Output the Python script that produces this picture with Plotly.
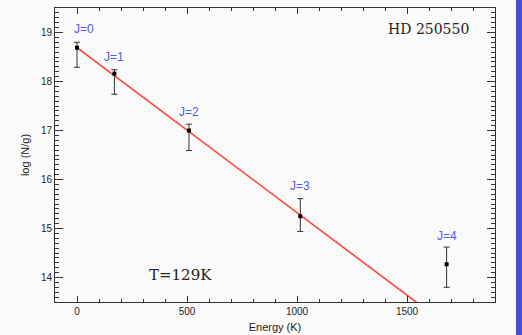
import plotly.graph_objects as go
import math

energy = [0, 170, 509, 1015, 1680]
logNg = [18.69, 18.16, 17.00, 15.25, 14.27]
err_up = [0.11, 0.08, 0.13, 0.36, 0.35]
err_down = [0.40, 0.42, 0.41, 0.31, 0.47]
labels = ["J=0", "J=1", "J=2", "J=3", "J=4"]
label_y = [19.08, 18.49, 17.37, 15.86, 14.85]
label_x = [30, 170, 509, 1015, 1680]
fit_x = [0, 1900]
T = 129.0
intercept = 18.69
fit_y = [intercept - math.log10(math.e) / T * x for x in fit_x]

fig = go.Figure()
fig.add_trace(go.Scatter(x=fit_x, y=fit_y, mode="lines",
                         line=dict(color="#ff3b30", width=1.5), hoverinfo="skip"))
fig.add_trace(go.Scatter(
    x=energy, y=logNg, mode="markers",
    marker=dict(symbol="square", size=4, color="black"),
    error_y=dict(type="data", symmetric=False, array=err_up, arrayminus=err_down,
                 color="#333333", thickness=1, width=3)))
for lx, ly, t in zip(label_x, label_y, labels):
    fig.add_annotation(x=lx, y=ly, text=t, showarrow=False,
                       font=dict(family="Liberation Sans", size=12, color="#4a5cf5"))
fig.add_annotation(x=0.945, y=0.93, xref="paper", yref="paper", xanchor="right",
                   yanchor="middle", text="HD 250550", showarrow=False,
                   font=dict(family="DejaVu Serif", size=14, color="#222222"))
fig.add_annotation(x=0.21, y=0.092, xref="paper", yref="paper", xanchor="left",
                   yanchor="middle", text="T=129K", showarrow=False,
                   font=dict(family="DejaVu Serif", size=15, color="#222222"))

fig.add_shape(type="rect", xref="paper", yref="paper",
              x0=(516 - 55) / 440, x1=(523 - 55) / 440, y0=-0.2, y1=1.1,
              fillcolor="#4a4fd8", line=dict(width=0), layer="above")

axis_common = dict(showgrid=False, zeroline=False, showline=True, linecolor="#333333",
                   linewidth=1, mirror="allticks", ticks="inside", tickcolor="#333333",
                   automargin=False,
                   tickfont=dict(family="Liberation Sans", size=10, color="#222222"))
fig.update_xaxes(range=[-100, 1900], dtick=500, ticklen=6,
                 minor=dict(ticks="inside", dtick=100, ticklen=3, tickcolor="#333333"),
                 title=dict(text="Energy (K)", standoff=7,
                            font=dict(family="Liberation Sans", size=11, color="#222222")),
                 **axis_common)
fig.update_yaxes(range=[13.5, 19.5], dtick=1, ticklen=8,
                 minor=dict(ticks="inside", dtick=0.1, ticklen=4, tickcolor="#333333"),
                 title=dict(text="log (N/g)", standoff=9,
                            font=dict(family="Liberation Sans", size=11, color="#222222")),
                 **axis_common)
fig.update_layout(width=522, height=335, margin=dict(l=55, r=27, t=8, b=33),
                  paper_bgcolor="#fafafa", plot_bgcolor="#fafafa", showlegend=False)
fig.write_html("out.html")
